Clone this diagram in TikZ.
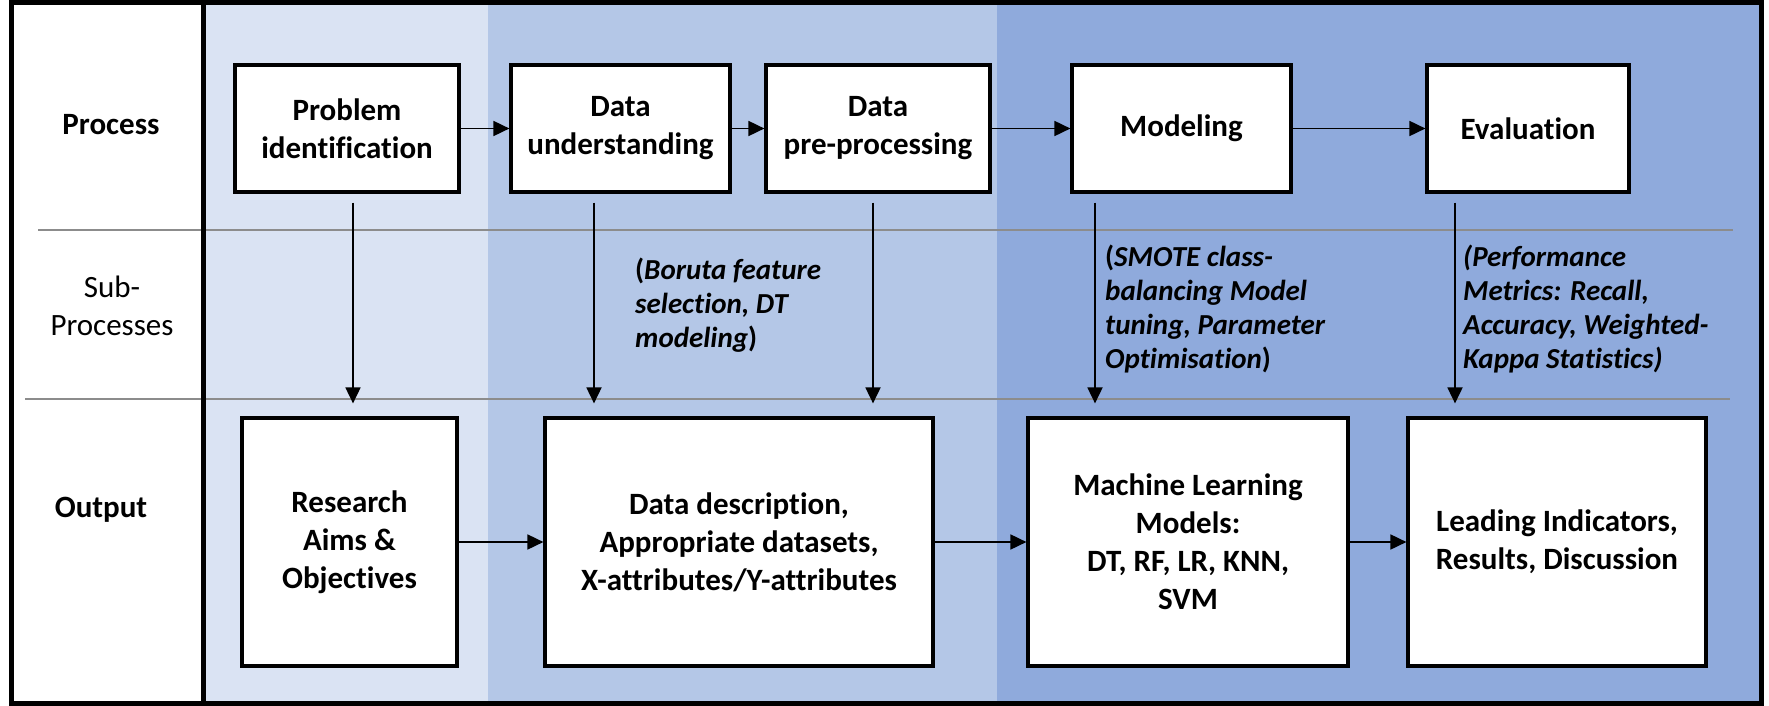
\documentclass[tikz,border=0pt]{standalone}
\usepackage{fontspec}
\setmainfont{Carlito}[Ligatures=NoCommon]
\usetikzlibrary{arrows.meta,calc}
\definecolor{bandA}{HTML}{DAE3F3}
\definecolor{bandB}{HTML}{B4C7E7}
\definecolor{bandC}{HTML}{8FAADC}
\definecolor{rulegray}{HTML}{8C8C8C}
\begin{document}
\begin{tikzpicture}[x=1pt,y=-1pt,
  box/.style={draw=black,line width=3.2pt,fill=white,inner sep=0pt,align=center,
    font=\fontsize{31}{38}\selectfont\bfseries},
  subtext/.style={anchor=west,inner sep=0pt,align=left,
    font=\fontsize{29}{34}\selectfont\bfseries\itshape},
  labbold/.style={inner sep=0pt,align=center,font=\fontsize{31}{38}\selectfont\bfseries},
  labplain/.style={inner sep=0pt,align=center,font=\fontsize{31}{38}\selectfont},
  arr/.style={line width=1.8pt,-{Triangle[length=16pt,width=15pt]}},
  rowrule/.style={draw=rulegray,line width=2pt}]
\useasboundingbox (0,0) rectangle (1769,706);

% phase bands
\fill[bandA] (203,3) rectangle (488,703);
\fill[bandB] (488,3) rectangle (997,703);
\fill[bandC] (997,3) rectangle (1761,703);

% row separators
\draw[rowrule] (38,230) -- (1733,230);
\draw[rowrule] (25,399) -- (1730,399);

% frame and label column
\draw[line width=5pt] (203,3) -- (203,703);
\draw[line width=5pt] (11,3) rectangle (1761,703);

% row labels
\node[labbold] (lp) at (111,125) {Process};
\node[labplain] (ls) at (112,306) {Sub-\\Processes};
\node[labbold] (lo) at (101,510) {Output};

% process steps
\node[box,minimum width=224pt,minimum height=127pt] (p1) at (347,128.5) {Problem\\identification};
\node[box,minimum width=219pt,minimum height=127pt] (p2) at (620.5,128.5) {Data\\understanding};
\node[box,minimum width=224pt,minimum height=127pt] (p3) at (878,128.5) {Data\\pre-processing};
\node[box,minimum width=219pt,minimum height=127pt] (p4) at (1181.5,128.5) {Modeling};
\node[box,minimum width=202pt,minimum height=127pt] (p5) at (1528,128.5) {Evaluation};

% outputs
\node[box,minimum width=215pt,minimum height=248pt] (o1) at (349.5,542) {Research\\Aims \&\\Objectives};
\node[box,minimum width=388pt,minimum height=248pt] (o2) at (739,542) {Data description,\\Appropriate datasets,\\X-attributes/Y-attributes};
\node[box,minimum width=320pt,minimum height=248pt] (o3) at (1188,542) {Machine Learning\\Models:\\DT, RF, LR, KNN,\\SVM};
\node[box,minimum width=298pt,minimum height=248pt] (o4) at (1557,542) {Leading Indicators,\\Results, Discussion};

% sub-processes
\node[subtext] (s2) at (635,305) {\textup{(}Boruta feature\\selection, DT\\modeling\textup{)}};
\node[subtext] (s4) at (1105,309) {\textup{(}SMOTE class-\\balancing Model\\tuning, Parameter\\Optimisation\textup{)}};
\node[subtext] (s5) at (1463,309) {(Performance\\Metrics: Recall,\\Accuracy, Weighted-\\Kappa Statistics)};

% process flow
\draw[arr] (p1.east) -- (p2.west);
\draw[arr] (p2.east) -- (p3.west);
\draw[arr] (p3.east) -- (p4.west);
\draw[arr] (p4.east) -- (p5.west);

% output flow
\draw[arr] (o1.east) -- (o2.west);
\draw[arr] (o2.east) -- (o3.west);
\draw[arr] (o3.east) -- (o4.west);

% columns of the vertical connectors
\coordinate (v1) at (353,0);
\coordinate (v2) at (594,0);
\coordinate (v3) at (873,0);
\coordinate (v4) at (1095,0);
\coordinate (v5) at (1455,0);

\draw[arr] ($(p1.south -| v1)+(0,9)$) -- ($(o1.north -| v1)+(0,-13)$);
\draw[arr] ($(p2.south -| v2)+(0,9)$) -- ($(o2.north -| v2)+(0,-13)$);
\draw[arr] ($(p3.south -| v3)+(0,9)$) -- ($(o2.north -| v3)+(0,-13)$);
\draw[arr] ($(p4.south -| v4)+(0,9)$) -- ($(o3.north -| v4)+(0,-13)$);
\draw[arr] ($(p5.south -| v5)+(0,9)$) -- ($(o4.north -| v5)+(0,-13)$);
\end{tikzpicture}
\end{document}
